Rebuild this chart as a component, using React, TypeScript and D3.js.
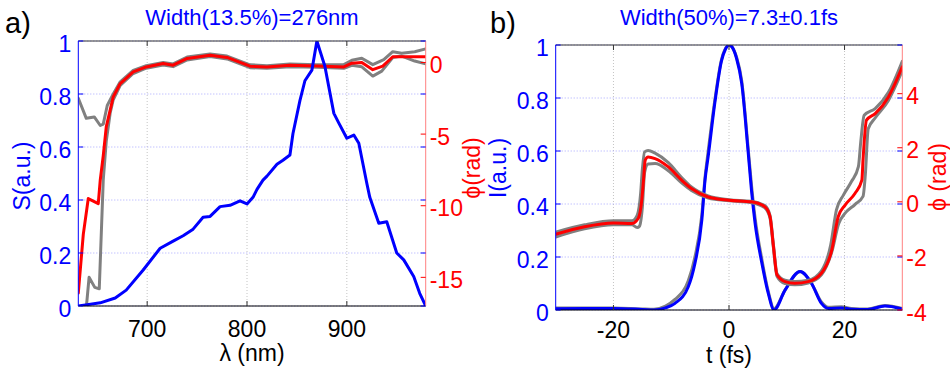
import React from 'react';
import * as d3 from 'd3';

// ---------- Panel a data ----------
const specNm = [631, 640, 653, 668, 679, 696, 713, 726, 736, 746, 756, 763, 773, 783, 793, 800, 806, 810, 816, 820, 830, 836, 843, 846, 853, 858, 865, 870, 878, 887, 892, 900, 907, 912, 920, 923, 932, 940, 950, 957, 967, 973, 979];
const specS = [0, 0.005, 0.012, 0.03, 0.06, 0.136, 0.218, 0.245, 0.265, 0.29, 0.335, 0.338, 0.375, 0.38, 0.397, 0.385, 0.41, 0.44, 0.475, 0.49, 0.535, 0.55, 0.57, 0.65, 0.775, 0.85, 0.89, 1.0, 0.905, 0.727, 0.69, 0.633, 0.645, 0.614, 0.463, 0.41, 0.312, 0.318, 0.2, 0.174, 0.111, 0.048, 0];

const phaseANm = [631, 636, 641, 651, 653, 656, 659, 666, 673, 686, 699, 716, 726, 740, 763, 780, 803, 820, 843, 870, 897, 905, 915, 926, 936, 946, 968, 979];
const phaseA = [-16.1, -12.0, -9.5, -9.85, -8.2, -6.5, -4.5, -2.4, -1.47, -0.66, -0.31, -0.07, -0.19, 0.28, 0.51, 0.35, -0.26, -0.31, -0.19, -0.24, -0.31, -0.05, 0.0, -0.5, -0.25, 0.4, 0.4, 0.4];

const grayAUpNm = [631, 639, 647, 653, 656, 660, 666, 673, 686, 699, 716, 726, 740, 763, 780, 803, 820, 843, 870, 897, 905, 915, 926, 937, 946, 955, 968, 979];
const grayAUp = [-2.5, -3.9, -3.8, -4.4, -4.3, -3.0, -2.2, -1.35, -0.55, -0.22, 0.0, -0.1, 0.38, 0.6, 0.45, -0.16, -0.22, -0.1, -0.15, -0.15, 0.15, 0.3, -0.15, 0.2, 0.75, 0.65, 0.75, 0.95];

const grayALoNm = [638.5, 641.8, 647.5, 652, 656, 659, 663, 666, 673, 686, 699, 716, 726, 740, 763, 780, 803, 820, 843, 870, 897, 905, 915, 926, 935, 946, 955, 968, 979];
const grayALo = [-17.5, -15.0, -15.7, -15.8, -8.2, -5.5, -3.5, -2.6, -1.6, -0.77, -0.4, -0.17, -0.29, 0.18, 0.41, 0.25, -0.36, -0.41, -0.29, -0.33, -0.4, -0.2, -0.3, -0.95, -0.6, 0.35, 0.45, 0.1, -0.1];

// ---------- Panel b data ----------
const intT = [-30, -25, -20, -15, -13, -11, -9.35, -7.05, -5.9, -4.7, -4.15, -3.6, -2.4, -1.3, -0.6, 0, 0.6, 1.3, 2.2, 3.3, 3.9, 4.5, 5.7, 6.8, 7.8, 9.7, 12.3, 14.3, 16, 17.2, 19.5, 21.2, 24, 27, 30];
const intI = [0.005, 0.006, 0.006, 0.002, 0, 0.008, 0.025, 0.088, 0.176, 0.34, 0.49, 0.58, 0.79, 0.94, 0.985, 1.0, 0.99, 0.95, 0.855, 0.6, 0.45, 0.33, 0.176, 0.063, 0, 0.075, 0.145, 0.1, 0.025, 0.006, 0.008, 0.003, 0.002, 0.015, 0.004];
const grayIT = [-30, -20, -15, -13, -11, -9.35, -7.05, -5.9, -4.7, -4.15, -3.6, -2.4, -1.3, 0, 1.3, 2.2, 3.3, 3.9, 4.5, 5.7, 6.8, 7.8, 9.7, 12.3, 14.3, 16, 17.2, 19.5, 21.2, 24, 27, 30];
const grayI = [0.008, 0.008, 0.004, 0.003, 0.015, 0.04, 0.11, 0.2, 0.36, 0.5, 0.6, 0.8, 0.945, 1.0, 0.955, 0.865, 0.615, 0.47, 0.35, 0.19, 0.07, 0.005, 0.075, 0.145, 0.1, 0.03, 0.01, 0.012, 0.006, 0.004, 0.017, 0.006];

const phaseBT = [-30, -25, -20, -16.8, -15.7, -15.1, -14.8, -14.5, -14.0, -12.8, -10.5, -8.2, -6.5, -3.6, 0, 3.9, 6.2, 7.1, 7.7, 8.3, 9.7, 11.4, 13.7, 16.0, 17.8, 18.9, 20.1, 21.8, 23.0, 23.2, 23.8, 25.3, 27.6, 30];
const phaseB = [-1.2, -0.92, -0.78, -0.8, -0.61, 0.06, 0.8, 1.54, 1.66, 1.6, 1.29, 0.8, 0.49, 0.18, 0.06, 0, -0.18, -0.55, -1.66, -2.7, -2.95, -3.01, -2.95, -2.64, -1.78, -0.55, -0.12, 0.31, 0.8, 1.54, 3.02, 3.26, 3.88, 4.99];

const grayBUpT = [-30, -25, -20, -16.8, -15.9, -15.3, -15.0, -14.6, -14.0, -12.8, -10.5, -8.2, -6.5, -3.6, 0, 3.9, 6.2, 7.1, 7.7, 8.3, 9.7, 11.4, 13.7, 16.0, 17.6, 18.6, 19.8, 21.2, 22.4, 22.8, 23.4, 25.3, 27.6, 30];
const grayBUp = [-1.12, -0.85, -0.7, -0.7, -0.5, 0.3, 1.2, 1.85, 1.9, 1.8, 1.45, 0.9, 0.55, 0.22, 0.08, 0.02, -0.14, -0.5, -1.6, -2.65, -2.9, -2.95, -2.9, -2.55, -1.6, -0.3, 0.25, 0.75, 1.3, 2.2, 3.2, 3.45, 4.05, 5.2];
const grayBLoT = [-30, -25, -20, -16.8, -15.9, -15.5, -15.0, -14.6, -14.0, -12.8, -10.5, -8.2, -6.5, -3.6, 0, 3.9, 6.2, 7.1, 7.7, 8.3, 9.7, 11.4, 13.7, 16.0, 17.8, 19.0, 20.1, 21.8, 23.2, 23.6, 24.1, 25.3, 27.6, 30];
const grayBLo = [-1.3, -1.0, -0.85, -0.85, -0.95, -0.9, -0.2, 1.1, 1.4, 1.42, 1.15, 0.7, 0.42, 0.14, 0.04, -0.03, -0.22, -0.6, -1.72, -2.75, -3.02, -3.07, -3.0, -2.7, -1.85, -0.8, -0.42, -0.1, 0.2, 1.0, 2.7, 3.1, 3.75, 4.85];

// ---------- ticks / labels ----------
const leftTicks = [0, 0.2, 0.4, 0.6, 0.8, 1];
const xTicksA = [700, 800, 900];
const rightTicksA = [0, -5, -10, -15];
const xTicksB = [-20, 0, 20];
const rightTicksB = [-4, -2, 0, 2, 4];

const titleA = 'Width(13.5%)=276nm';
const titleB = 'Width(50%)=7.3±0.1fs';

const FONT = '"Liberation Sans", Arial, Helvetica, sans-serif';
const BLUE = '#0000ff';
const RED = '#ff0000';
const GRAY = '#808080';

type Series = { xs: number[]; ys: number[]; color: string; axis: 'L' | 'R'; curve: any };

function Panel(props: {
  id: string; left: number; right: number; top: number; bottom: number;
  xDomain: [number, number]; yDomain: [number, number]; y2Domain: [number, number];
  xTicks: number[]; y2Ticks: number[]; series: Series[];
  title: string; tag: string; tagX: number; xLabel: string; xLabelY: number; xTickY: number;
  yLabel: string; yLabelX: number; yLabelY: number; y2Label: string; y2LabelX: number; y2LabelY: number;
}) {
  const p = props;
  const x = d3.scaleLinear().domain(p.xDomain).range([p.left, p.right]);
  const y = d3.scaleLinear().domain(p.yDomain).range([p.bottom, p.top]);
  const y2 = d3.scaleLinear().domain(p.y2Domain).range([p.bottom, p.top]);
  const tl = 5;
  const cx = (p.left + p.right) / 2;
  return (
    <g>
      <defs>
        <clipPath id={'clip' + p.id}>
          <rect x={p.left} y={p.top} width={p.right - p.left} height={p.bottom - p.top} />
        </clipPath>
      </defs>
      {p.xTicks.map((t) => (
        <line key={'gx' + t} x1={x(t)} x2={x(t)} y1={p.top} y2={p.bottom} stroke="#c4c4c4" strokeDasharray="1,2" />
      ))}
      {leftTicks.map((t) => (
        <line key={'gy' + t} x1={p.left} x2={p.right} y1={y(t)} y2={y(t)} stroke="#a8a8ff" strokeDasharray="1,2" />
      ))}
      <g clipPath={`url(#clip${p.id})`}>
        {p.series.map((s, i) => {
          const sy = s.axis === 'L' ? y : y2;
          const gen = d3.line<[number, number]>().x((d) => x(d[0])).y((d) => sy(d[1])).curve(s.curve);
          return <path key={i} d={gen(d3.zip(s.xs, s.ys) as [number, number][]) || ''} fill="none" stroke={s.color} strokeWidth={3} strokeLinejoin="round" strokeLinecap="round" />;
        })}
      </g>
      <line x1={p.left} x2={p.right} y1={p.top} y2={p.top} stroke="#333" />
      <line x1={p.left} x2={p.right} y1={p.bottom} y2={p.bottom} stroke="#000" />
      <line x1={p.left} x2={p.left} y1={p.top} y2={p.bottom} stroke={BLUE} />
      <line x1={p.right} x2={p.right} y1={p.top} y2={p.bottom} stroke="#ff8080" />
      {p.xTicks.map((t) => (
        <g key={'xt' + t}>
          <line x1={x(t)} x2={x(t)} y1={p.bottom} y2={p.bottom - tl} stroke="#333" />
          <line x1={x(t)} x2={x(t)} y1={p.top} y2={p.top + tl} stroke="#333" />
          <text x={x(t)} y={p.xTickY} textAnchor="middle" fontSize={23} fontFamily={FONT} fill="#000">{String(t)}</text>
        </g>
      ))}
      {leftTicks.map((t) => (
        <g key={'yt' + t}>
          <line x1={p.left} x2={p.left + tl} y1={y(t)} y2={y(t)} stroke={BLUE} />
          <line x1={p.right} x2={p.right - tl} y1={y(t)} y2={y(t)} stroke={BLUE} />
          <text x={p.left - 7} y={y(t) + 10.5} textAnchor="end" fontSize={23} fontFamily={FONT} fill={BLUE}>{String(t)}</text>
        </g>
      ))}
      {p.y2Ticks.map((t) => (
        <g key={'y2t' + t}>
          <line x1={p.right} x2={p.right - tl} y1={y2(t)} y2={y2(t)} stroke={RED} />
          <text x={p.right + 4} y={y2(t) + 10.5} textAnchor="start" fontSize={23} fontFamily={FONT} fill={RED}>{String(t)}</text>
        </g>
      ))}
      <text x={cx} y={25} textAnchor="middle" fontSize={22} fontFamily={FONT} fill={BLUE}>{p.title}</text>
      <text x={p.tagX} y={33} fontSize={29} fontFamily={FONT} fill="#000">{p.tag}</text>
      <text x={cx} y={p.xLabelY} textAnchor="middle" fontSize={23} fontFamily={FONT} fill="#000">{p.xLabel}</text>
      <text transform={`translate(${p.yLabelX},${p.yLabelY}) rotate(-90)`} textAnchor="middle" fontSize={23} fontFamily={FONT} fill={BLUE}>{p.yLabel}</text>
      <text transform={`translate(${p.y2LabelX},${p.y2LabelY}) rotate(-90)`} textAnchor="middle" fontSize={23} fontFamily={FONT} fill={RED}>{p.y2Label}</text>
    </g>
  );
}

export default function App() {
  const seriesA: Series[] = [
    { xs: grayAUpNm, ys: grayAUp, color: GRAY, axis: 'R', curve: d3.curveLinear },
    { xs: grayALoNm, ys: grayALo, color: GRAY, axis: 'R', curve: d3.curveLinear },
    { xs: phaseANm, ys: phaseA, color: RED, axis: 'R', curve: d3.curveLinear },
    { xs: specNm, ys: specS, color: BLUE, axis: 'L', curve: d3.curveLinear },
  ];
  const seriesB: Series[] = [
    { xs: grayIT, ys: grayI, color: GRAY, axis: 'L', curve: d3.curveMonotoneX },
    { xs: intT, ys: intI, color: BLUE, axis: 'L', curve: d3.curveMonotoneX },
    { xs: grayBUpT, ys: grayBUp, color: GRAY, axis: 'R', curve: d3.curveMonotoneX },
    { xs: grayBLoT, ys: grayBLo, color: GRAY, axis: 'R', curve: d3.curveMonotoneX },
    { xs: phaseBT, ys: phaseB, color: RED, axis: 'R', curve: d3.curveMonotoneX },
  ];
  return (
    <svg width={950} height={375} style={{ position: 'absolute', left: 0, top: 0, background: '#fff' }}>
      <rect width={950} height={375} fill="#fff" />
      <Panel id="a" left={78.3} right={425.7} top={41} bottom={306}
        xDomain={[631, 979]} yDomain={[0, 1]} y2Domain={[-17, 1.5]}
        xTicks={xTicksA} y2Ticks={rightTicksA} series={seriesA}
        title={titleA} tag="a)" tagX={5} xLabel="λ (nm)" xLabelY={361} xTickY={337}
        yLabel="S(a.u.)" yLabelX={30} yLabelY={176} y2Label="ϕ(rad)" y2LabelX={480} y2LabelY={168} />
      <Panel id="b" left={555.7} right={902.3} top={45} bottom={310}
        xDomain={[-30, 30]} yDomain={[0, 1]} y2Domain={[-4, 5.8]}
        xTicks={xTicksB} y2Ticks={rightTicksB} series={seriesB}
        title={titleB} tag="b)" tagX={490} xLabel="t (fs)" xLabelY={363} xTickY={338}
        yLabel="I(a.u.)" yLabelX={506} yLabelY={168} y2Label="ϕ (rad)" y2LabelX={946} y2LabelY={177} />
    </svg>
  );
}
